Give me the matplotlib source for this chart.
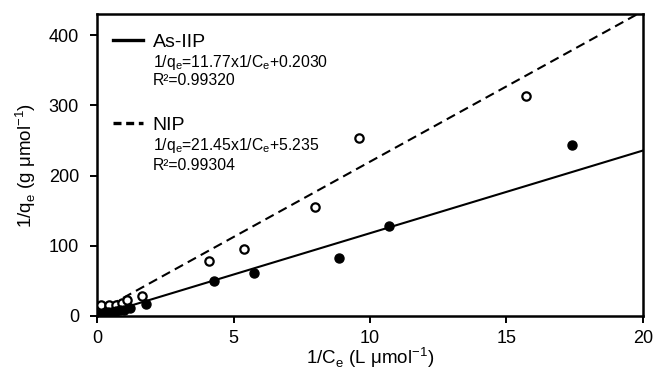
import matplotlib.pyplot as plt
from matplotlib.lines import Line2D
import numpy as np

plt.rcParams['font.family'] = ['Liberation Sans', 'DejaVu Sans']
plt.rcParams['mathtext.fontset'] = 'custom'
plt.rcParams['mathtext.rm'] = 'Liberation Sans'

# ---------------------------
# Data
# ---------------------------
iip_x = [0.1, 0.25, 0.4, 0.55, 0.7, 0.85, 1.0, 1.2, 1.8, 4.3, 5.75, 8.85, 10.7, 17.4]
iip_y = [3, 4, 5, 6, 7, 8, 9, 11, 17, 50, 61, 82, 128, 243]

nip_x = [0.13, 0.43, 0.7, 0.9, 1.1, 1.65, 4.1, 5.4, 8.0, 9.6, 15.7]
nip_y = [15, 16, 16, 18, 23, 29, 78, 95, 155, 253, 314]

# linear fits (slope, intercept)
iip_fit = (11.77, 0.2030)
nip_fit = (21.45, 5.235)

xticks = [0, 5, 10, 15, 20]
yticks = [0, 100, 200, 300, 400]

# ---------------------------
# Plot
# ---------------------------
fig = plt.figure(figsize=(6.56, 3.70), dpi=100)
ax = fig.add_axes([0.148, 0.146, 0.832, 0.816])

xl = np.array([0, 20])
ax.plot(xl, iip_fit[0] * xl + iip_fit[1], color='black', lw=1.5)
ax.plot(xl, nip_fit[0] * xl + nip_fit[1], color='black', lw=1.5,
        ls=(0, (4.5, 2.6)))

ax.plot(nip_x, nip_y, 'o', ms=6, mfc='white', mec='black', mew=1.6,
        zorder=3)
ax.plot(iip_x, iip_y, 'o', ms=6.5, mfc='black', mec='black', zorder=4)

ax.set_xlim(0, 20)
ax.set_ylim(0, 430)
ax.set_xticks(xticks)
ax.set_yticks(yticks)
ax.tick_params(direction='out', length=5, width=1.4, labelsize=13)
ax.tick_params(axis='y', pad=8)
ax.tick_params(axis='x', pad=5)
for s in ax.spines.values():
    s.set_linewidth(1.8)

ax.set_xlabel('1/C$_\\mathregular{e}$ (L \u03bcmol$^\\mathregular{-1}$)',
              fontsize=13.5, labelpad=-1)
ax.set_ylabel('1/q$_\\mathregular{e}$ (g \u03bcmol$^\\mathregular{-1}$)',
              fontsize=13.5, labelpad=8)

# legend handles
h1 = Line2D([], [], color='black', lw=2.4)
h2 = Line2D([], [], color='black', lw=2.4, ls=(0, (2.4, 1.4)))
ax.legend([h1, h2], ['As-IIP', 'NIP'], loc='upper left',
          bbox_to_anchor=(-0.007, 1.0), frameon=False, fontsize=14,
          handlelength=1.55, handletextpad=0.5, labelspacing=3.35,
          borderaxespad=0.7, borderpad=0.3)

eq_kw = dict(transform=ax.transAxes, fontsize=11.3, va='center', ha='left')
ax.text(0.102, 0.840, '1/q$_\\mathregular{e}$=11.77x1/C$_\\mathregular{e}$+0.2030', **eq_kw)
ax.text(0.102, 0.779, 'R\u00b2=0.99320', **eq_kw)
ax.text(0.102, 0.566, '1/q$_\\mathregular{e}$=21.45x1/C$_\\mathregular{e}$+5.235', **eq_kw)
ax.text(0.102, 0.500, 'R\u00b2=0.99304', **eq_kw)

plt.savefig('out.png', dpi=100)
